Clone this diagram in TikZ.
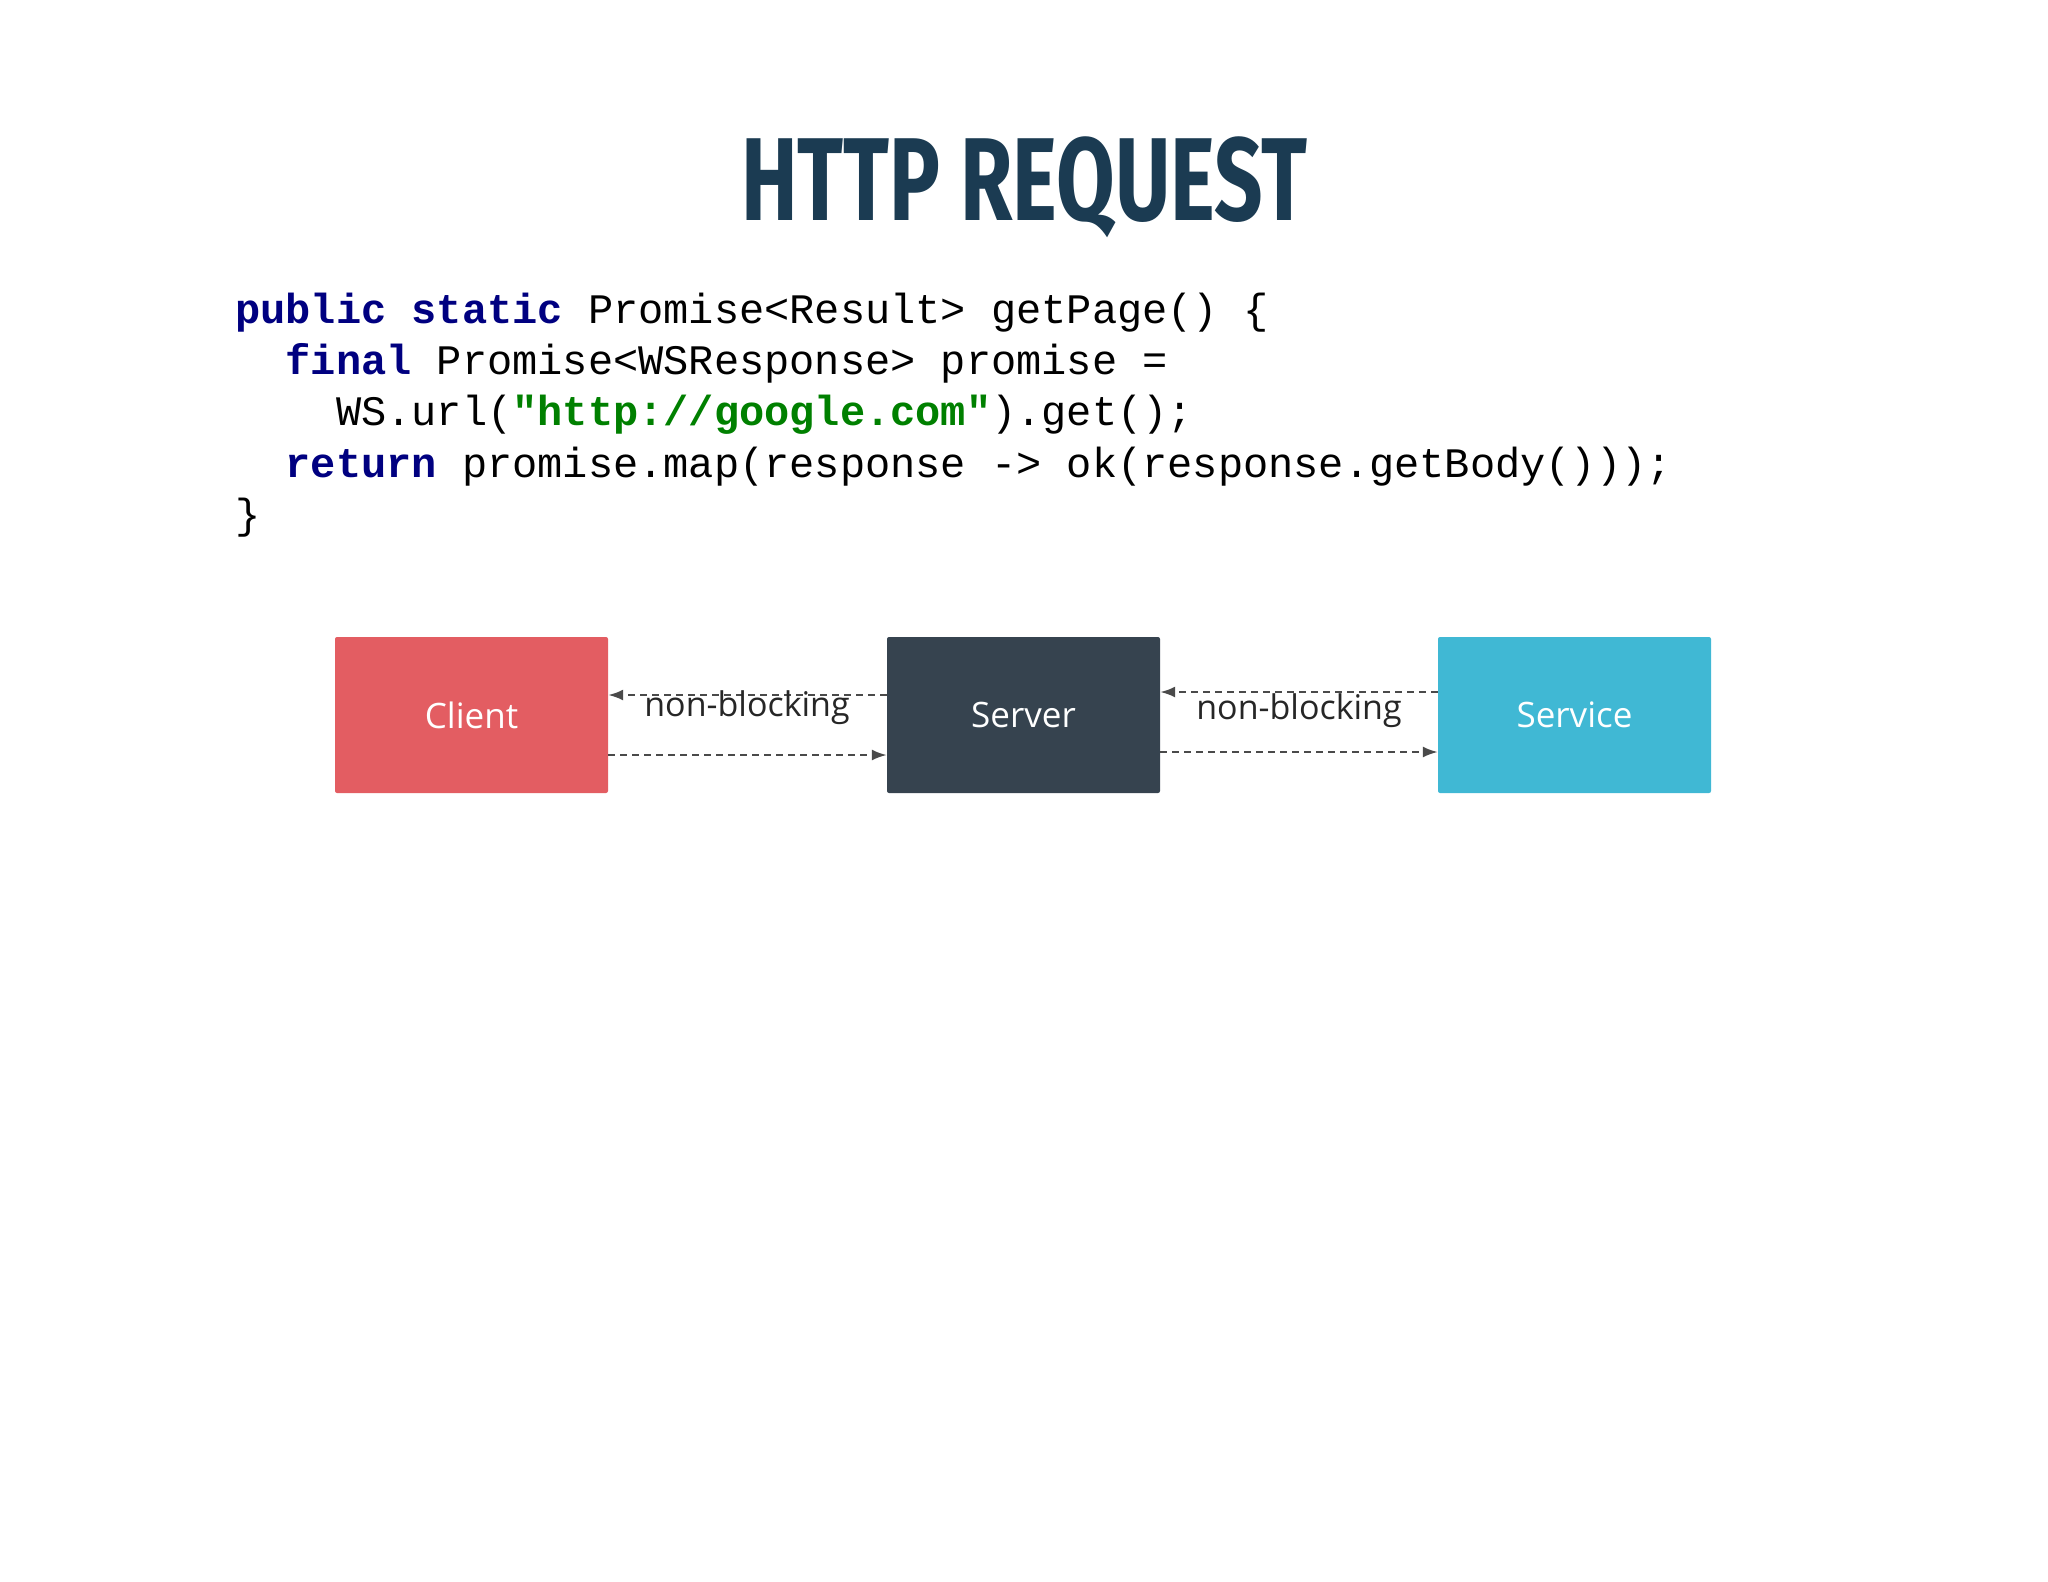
\documentclass[tikz,border=0pt]{standalone}
\usepackage{fontspec}
\setmainfont{Open Sans}
\setmonofont{Liberation Mono}
\newfontfamily\titlefont{Fira Sans}
\usetikzlibrary{arrows.meta}
\definecolor{navy}{HTML}{1B3B52}
\definecolor{kw}{HTML}{000080}
\definecolor{str}{HTML}{008000}
\definecolor{cl}{HTML}{E35D62}
\definecolor{sv}{HTML}{36434F}
\definecolor{se}{HTML}{40B8D4}
\definecolor{ar}{HTML}{4A4A4A}
\tikzset{
 box/.style={draw=none,rounded corners=2pt,minimum width=273pt,minimum height=156pt,text=white,font=\fontsize{35}{40}\selectfont},
 conn/.style={draw=ar,line width=2.2pt,dash pattern=on 7pt off 5pt,-{Latex[length=15pt,width=11pt]}},
 lbl/.style={font=\fontsize{34}{40}\selectfont,text=black!85}
}
\begin{document}
\begin{tikzpicture}[x=1pt,y=-1pt]
\useasboundingbox (0,0) rectangle (2048,1582);
\node (title) at (1024,187) {\titlefont\bfseries\color{navy}\scalebox{0.72}[1]{\fontsize{118}{120}\selectfont HTTP REQUEST}};
\node[anchor=west,align=left,font=\ttfamily\fontsize{42}{51.3}\selectfont,inner sep=0pt] (code) at (235,415) {%
\textcolor{kw}{\bfseries public static} Promise<Result> getPage() \{\\
\ \ \textcolor{kw}{\bfseries final} Promise<WSResponse> promise =\\
\ \ \ \ WS.url(\textcolor{str}{\bfseries "http://google.com"}).get();\\
\ \ \textcolor{kw}{\bfseries return} promise.map(response -> ok(response.getBody()));\\
\}};
\node[box,fill=cl] (client) at (471.5,715) {Client};
\node[box,fill=sv] (server) at (1023.5,715) {Server};
\node[box,fill=se] (service) at (1574.5,715) {Service};
\draw[conn] ([yshift=-40pt]client.east) -- ([yshift=-40pt]server.west);
\draw[conn] ([yshift=20pt]server.west) -- ([yshift=20pt]client.east);
\draw[conn] ([yshift=-37pt]server.east) -- ([yshift=-37pt]service.west);
\draw[conn] ([yshift=23pt]service.west) -- ([yshift=23pt]server.east);
\node[lbl] (l1) at (747,708) {non-blocking};
\node[lbl] (l2) at (1299,711) {non-blocking};
\end{tikzpicture}
\end{document}
